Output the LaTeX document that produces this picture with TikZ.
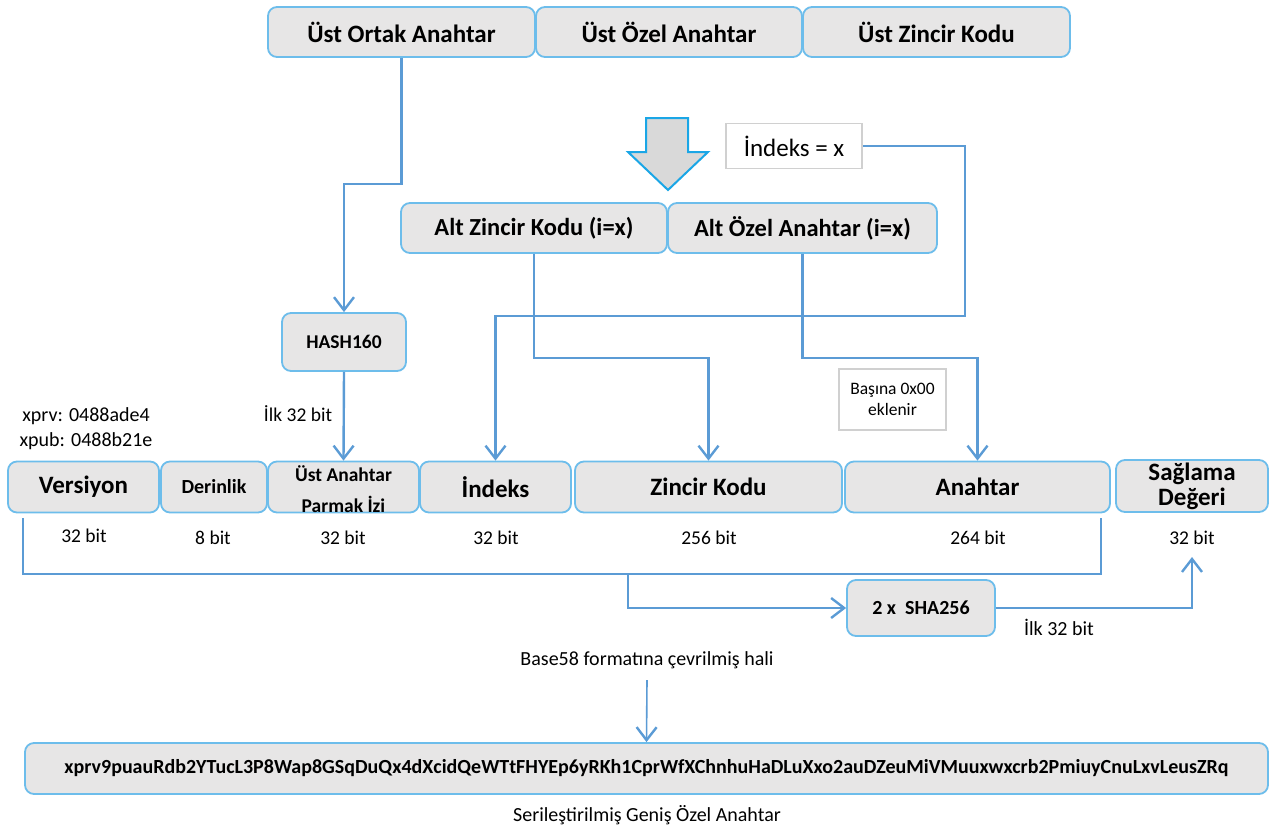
\documentclass[tikz,border=0pt]{standalone}
\usepackage{fontspec}
\setmainfont{Carlito}
\usetikzlibrary{arrows.meta}
\definecolor{boxfill}{HTML}{E7E6E6}
\definecolor{boxline}{HTML}{6DBDEB}
\definecolor{linkblue}{HTML}{5B9BD5}
\definecolor{notegray}{HTML}{D0D0D0}
\definecolor{bigfill}{HTML}{D9D9D9}
\definecolor{bigline}{HTML}{1AA6E6}
\newcommand{\fs}[1]{\fontsize{#1}{#1}\selectfont}
\tikzset{
  field/.style={draw=boxline, line width=1.8pt, fill=boxfill, rounded corners=9pt,
    inner sep=0pt, align=center, font=\bfseries\fs{25}},
  note/.style={draw=notegray, line width=1.6pt, fill=white, inner sep=0pt, align=center},
  lbl/.style={inner sep=0pt, align=center, font=\fs{19.5}},
  link/.style={draw=linkblue, line width=2.4pt},
  thinlink/.style={draw=linkblue, line width=1.6pt},
  tip/.style={-{Straight Barb[length=13pt,width=20pt,line width=2.4pt]}},
}
\begin{document}
\begin{tikzpicture}[x=1pt,y=-1pt]
\useasboundingbox (0,0) rectangle (1272,831);

% parent key row
\node[field, minimum width=267pt, minimum height=50pt] (upub)  at (401.5,32) {Üst Ortak Anahtar};
\node[field, minimum width=266pt, minimum height=50pt] (upriv) at (669,32)   {Üst Özel Anahtar};
\node[field, minimum width=267pt, minimum height=50pt] (uchain) at (936.5,32) {Üst Zincir Kodu};

% derivation block arrow
\draw[line width=2pt, draw=bigline, fill=bigfill, line join=miter]
  (646,118) -- (688,118) -- (688,152) -- (708,152) -- (668,190) -- (628,152) -- (646,152) -- cycle;

\node[note, minimum width=136pt, minimum height=45pt, font=\fs{25}] (idx) at (794,146) {İndeks = x};

% child key row
\node[field, minimum width=266pt, minimum height=50pt, font=\bfseries\fs{24.5}] (altz) at (534,228) {Alt Zincir Kodu (i=x)};
\node[field, minimum width=269pt, minimum height=50pt, font=\bfseries\fs{24.5}] (alto) at (802.5,228) {Alt Özel Anahtar (i=x)};

\node[field, minimum width=124pt, minimum height=58pt, font=\bfseries\fs{19.5}] (hash) at (344,342) {HASH160};

\node[note, minimum width=107pt, minimum height=61pt, font=\fs{17.5}] (pad) at (892.5,399.5) {Başına 0x00\\[4pt]eklenir};

\node[lbl, font=\fs{20}] (vers) at (86,429) {xprv: 0488ade4\\[5pt]xpub: 0488b21e};
\node[lbl] (first1) at (298,414) {İlk 32 bit};

% serialized fields
\node[field, minimum width=151pt, minimum height=51pt] (fver)  at (83.5,487)  {Versiyon};
\node[field, minimum width=106pt, minimum height=51pt, font=\bfseries\fs{20}] (fdep)  at (214,487)  {Derinlik};
\node[field, minimum width=151pt, minimum height=51pt, font=\bfseries\fs{19.5}] (ffp)   at (343.5,487)
  {\raisebox{-10.5pt}[0pt][0pt]{\begin{tabular}{@{}c@{}}Üst Anahtar\\[9pt]Parmak İzi\end{tabular}}};
\node[field, minimum width=151pt, minimum height=51pt] (find)  at (495.5,487) {İndeks};
\node[field, minimum width=267pt, minimum height=51pt] (fzk)   at (708.5,487) {Zincir Kodu};
\node[field, minimum width=265pt, minimum height=51pt] (fkey)  at (977.5,487) {Anahtar};
\node[field, minimum width=152pt, minimum height=52pt] (fck)   at (1192,486) {Sağlama\\Değeri};

\node[lbl] (b1) at (84,536)   {32 bit};
\node[lbl] (b2) at (213,538)  {8 bit};
\node[lbl] (b3) at (343,538)  {32 bit};
\node[lbl] (b4) at (496,538)  {32 bit};
\node[lbl] (b5) at (709,538)  {256 bit};
\node[lbl] (b6) at (978,538)  {264 bit};
\node[lbl] (b7) at (1192,538) {32 bit};

\node[field, minimum width=148pt, minimum height=56pt, font=\bfseries\fs{20}] (sha) at (921,608) {2 x\ \ SHA256};
\node[lbl, font=\fs{20}] (first2) at (1059,627) {İlk 32 bit};

\node[lbl, font=\fs{20}] (b58) at (647,660) {Base58 formatına çevrilmiş hali};
\node[field, minimum width=1243pt, minimum height=51pt, font=\bfseries\fs{20}] (ser) at (646.5,768.5)
  {xprv9puauRdb2YTucL3P8Wap8GSqDuQx4dXcidQeWTtFHYEp6yRKh1CprWfXChnhuHaDLuXxo2auDZeuMiVMuuxwxcrb2PmiuyCnuLxvLeusZRq};
\node[lbl, font=\fs{20}] (sername) at (647,815) {Serileştirilmiş Geniş Özel Anahtar};

% connector anchors
\coordinate (c1) at (965,316);
\coordinate (bl) at (23,518);
\coordinate (br) at (1101,518);
\coordinate (bm) at (593,574);
\coordinate (ckin) at (1192,557);
\coordinate (b58out) at (647,680);

% connectors
\draw[link,tip] (upub.south) -- ++(0,126) -| (hash.north);
\draw[link,tip] (hash.south) -- (ffp.north);
\draw[link,tip] (idx.east) -| (c1) -| (find.north);
\draw[link,tip] (altz.south) -- ++(0,104) -| (fzk.north);
\draw[link,tip] (alto.south) -- ++(0,104) -| (fkey.north);
\draw[thinlink] (bl) |- (1101,574) -- (br);
\draw[link,tip] (bm) -| (628,590) |- (sha.west);
\draw[link,tip] (sha.east) -| (ckin);
\draw[thinlink,tip] (b58out) -- (ser.north);
\end{tikzpicture}
\end{document}
